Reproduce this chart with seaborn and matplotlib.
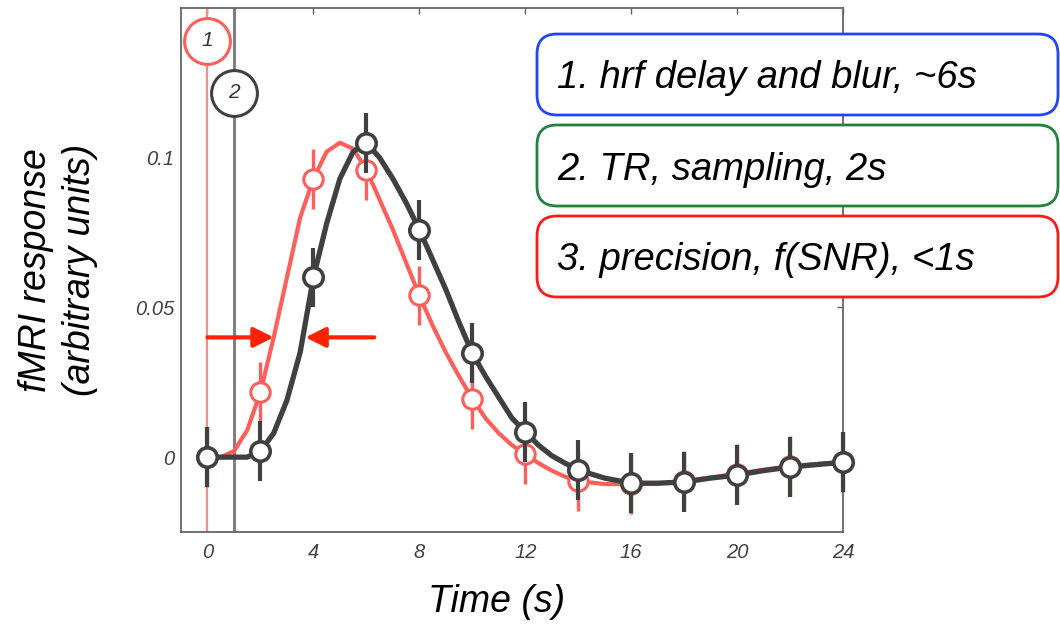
import matplotlib
matplotlib.use('Agg')
import matplotlib.pyplot as plt
from matplotlib.patches import FancyBboxPatch
import seaborn as sns
import numpy as np

# sampled response curves (s, arbitrary units)
curve_t = [0, 0.5, 1, 1.5, 2, 2.5, 3, 3.5, 4, 4.5, 5, 5.5, 6, 6.5, 7, 7.5, 8, 8.5,
           9, 9.5, 10, 10.5, 11, 11.5, 12, 12.5, 13, 13.5, 14, 15, 16, 17, 18, 19,
           20, 21, 22, 23, 24]
black_curve = [0, 0, 0, 0, 0.002, 0.008, 0.019, 0.035, 0.060, 0.078, 0.093, 0.102,
               0.105, 0.100, 0.093, 0.085, 0.076, 0.066, 0.056, 0.045, 0.0347, 0.027,
               0.020, 0.013, 0.0085, 0.004, 0.0005, -0.002, -0.0043, -0.007, -0.0087,
               -0.0087, -0.0083, -0.007, -0.006, -0.0045, -0.0033, -0.0025, -0.0017]
red_curve = [0, 0, 0.002, 0.009, 0.0217, 0.040, 0.060, 0.080, 0.093, 0.102, 0.105,
             0.103, 0.096, 0.086, 0.076, 0.065, 0.054, 0.044, 0.035, 0.027, 0.0195,
             0.013, 0.008, 0.004, 0.001, -0.002, -0.0045, -0.0065, -0.008, -0.009,
             -0.009, -0.0088, -0.008, -0.0068, -0.0055, -0.0042, -0.003, -0.0023,
             -0.0017]

# sampled points (every TR = 2 s)
sample_t = [0, 2, 4, 6, 8, 10, 12, 14, 16, 18, 20, 22, 24]
black_pts = [0, 0.002, 0.060, 0.105, 0.076, 0.0347, 0.0085, -0.0043, -0.0087,
             -0.0083, -0.006, -0.0033, -0.0017]
red_pts = [0, 0.0217, 0.093, 0.096, 0.054, 0.0195, 0.001, -0.008, -0.009, -0.008,
           -0.0055, -0.003, -0.0017]
black_err = [0.01] * 13
red_err = [0.01] * 13

onsets = [0, 1]
onset_labels = ['1', '2']
onset_label_y = [0.139, 0.1217]

arrow_y = 0.04
arrow_right = (0, 2.5)
arrow_left = (6.3, 3.7)

notes = ['1. hrf delay and blur, ~6s', '2. TR, sampling, 2s',
         '3. precision, f(SNR), <1s']
note_colors = ['#2244ff', '#23803f', '#ff1a1a']

xticks = [0, 4, 8, 12, 16, 20, 24]
yticks = [0, 0.05, 0.1]
yticklabels = ['0', '0.05', '0.1']

BLACK = '#404040'
RED = '#ff5f5a'

sns.set_theme(style='white')
plt.rcParams['font.family'] = ['Liberation Sans', 'DejaVu Sans']

fig = plt.figure(figsize=(10.6, 6.27), dpi=100)
ax = fig.add_axes([181 / 1060, 1 - 532 / 627, 662 / 1060, 524 / 627])

# onset markers
ax.axvline(onsets[0], color='#ff8a85', lw=1.6, zorder=1)
ax.axvline(onsets[1], color='#808080', lw=2.2, zorder=1)

# red (true timing) curve
sns.lineplot(x=curve_t, y=red_curve, ax=ax, color=RED, lw=3.0, zorder=2,
             solid_joinstyle='round')
ax.vlines(sample_t, np.array(red_pts) - np.array(red_err),
          np.array(red_pts) + np.array(red_err), color=RED, lw=2.4, zorder=2.1,
          clip_on=False)
ax.plot(sample_t, red_pts, 'o', ms=14, mfc='white', mec=RED, mew=2.2, zorder=2.2,
        clip_on=False)

# black (delayed) curve
sns.lineplot(x=curve_t, y=black_curve, ax=ax, color=BLACK, lw=3.8, zorder=3,
             solid_joinstyle='round')
ax.vlines(sample_t, np.array(black_pts) - np.array(black_err),
          np.array(black_pts) + np.array(black_err), color=BLACK, lw=3.0,
          zorder=3.1, clip_on=False)
ax.plot(sample_t, black_pts, 'o', ms=14, mfc='white', mec=BLACK, mew=2.6,
        zorder=3.2, clip_on=False)

# arrows
for x0, x1 in [arrow_right, arrow_left]:
    ax.annotate('', xy=(x1, arrow_y), xytext=(x0, arrow_y),
                arrowprops=dict(arrowstyle='-|>', color='#ff2200', lw=3,
                                mutation_scale=30, shrinkA=0, shrinkB=0),
                zorder=4)

# numbered onset circles
for x, lab, yy, col in zip(onsets, onset_labels, onset_label_y, [RED, BLACK]):
    ax.plot([x], [yy], 'o', ms=33, mfc='white', mec=col, mew=2.2, zorder=5,
            clip_on=False)
    ax.text(x, yy, lab, ha='center', va='center', fontsize=15, style='italic',
            color='#333333', zorder=6)

ax.set_xlim(-1, 24)
ax.set_ylim(-0.025, 0.15)
ax.set_xticks(xticks)
ax.set_yticks(yticks)
ax.set_yticklabels(yticklabels)
ax.tick_params(direction='in', length=4, width=1, colors='#606060',
               top=True, right=True, labelsize=14.5, labelcolor='#404040')
ax.tick_params(axis='x', pad=8)
ax.tick_params(axis='y', pad=5)
for lab in ax.get_xticklabels() + ax.get_yticklabels():
    lab.set_fontstyle('italic')
for sp in ax.spines.values():
    sp.set_color('#666666')
    sp.set_linewidth(1.3)

ax.set_ylabel('fMRI response\n(arbitrary units)', fontsize=27, style='italic',
              color='black', linespacing=1.3)
ax.yaxis.set_label_coords(-0.125, 0.5)
ax.set_xlabel('Time (s)', fontsize=27, style='italic', color='black')
ax.xaxis.set_label_coords((497 - 181) / 662, -0.1)

# annotation boxes on the right (inch coordinates)
box_bottoms = [5.12, 4.21, 3.30]
baselines = [5.39, 4.47, 3.57]
for txt, col, yb, bl in zip(notes, note_colors, box_bottoms, baselines):
    box = FancyBboxPatch((5.37, yb), 5.21, 0.81,
                         boxstyle='round,pad=0,rounding_size=0.2',
                         transform=fig.dpi_scale_trans, fc='white', ec=col,
                         lw=2.0, zorder=10)
    fig.patches.append(box)
    fig.text(5.57, bl, txt, transform=fig.dpi_scale_trans, fontsize=27.5,
             style='italic', color='black', va='baseline', ha='left', zorder=11)

fig.savefig('out.png', dpi=100)
